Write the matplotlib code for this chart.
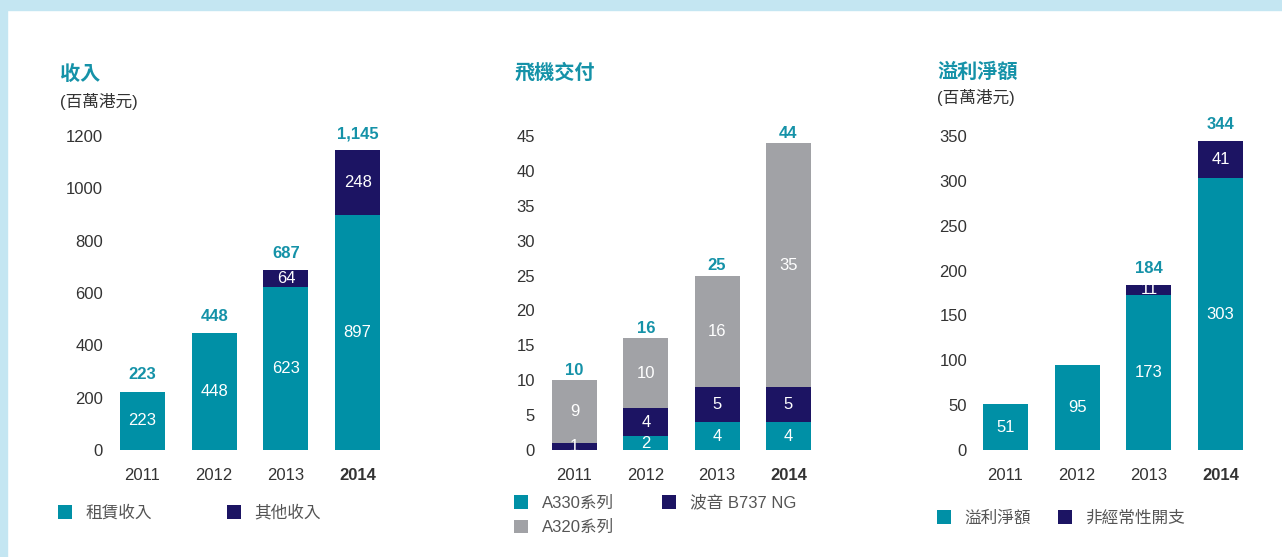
import matplotlib.pyplot as plt
from matplotlib.patches import Rectangle

plt.rcParams['font.family'] = ['Liberation Sans', 'Noto Sans CJK TC', 'DejaVu Sans']

# 資料
years = ['2011', '2012', '2013', '2014']

rev_lease = [223, 448, 623, 897]
rev_other = [0, 0, 64, 248]
rev_total = ['223', '448', '687', '1,145']

del_a330 = [0, 2, 4, 4]
del_b737 = [1, 4, 5, 5]
del_a320 = [9, 10, 16, 35]
del_total = ['10', '16', '25', '44']

np_profit = [51, 95, 173, 303]
np_nonrec = [0, 0, 11, 41]
np_total = ['', '', '184', '344']

TEAL = '#0090a6'
NAVY = '#1c1463'
GRAY = '#a1a2a6'
TITLE = '#1592a8'
TXT = '#333333'

W, H = 1282, 557
fig = plt.figure(figsize=(W / 100, H / 100), dpi=100)
fig.patch.set_facecolor('white')
# 淺藍邊框
fig.patches.append(Rectangle((0, 1 - 10 / H), 1, 10 / H, transform=fig.transFigure,
                             color='#c4e6f2', zorder=0))
fig.patches.append(Rectangle((0, 0), 7 / W, 1, transform=fig.transFigure,
                             color='#c4e6f2', zorder=0))


def make_axes(left_px, first_px, step_px, ymax, ticks):
    x0 = -(first_px - left_px) / step_px
    x1 = 3.62
    width = (x1 - x0) * step_px
    ax = fig.add_axes([left_px / W, (H - 450) / H, width / W, 314 / H])
    ax.set_xlim(x0, x1)
    ax.set_ylim(0, ymax)
    ax.set_yticks(ticks)
    ax.set_xticks(range(4))
    ax.set_xticklabels(years)
    ax.get_xticklabels()[3].set_fontweight('bold')
    for s in ax.spines.values():
        s.set_visible(False)
    ax.tick_params(length=0, labelsize=12, colors=TXT)
    ax.tick_params(axis='x', pad=13)
    ax.tick_params(axis='y', pad=5)
    ax.patch.set_alpha(0)
    return ax


def stack(ax, series, colors, labels, totals, off=12):
    bottoms = [0] * 4
    handles = []
    for vals, c, lab in zip(series, colors, labels):
        b = ax.bar(range(4), vals, 0.63, bottom=bottoms, color=c, label=lab)
        handles.append(b)
        for i, v in enumerate(vals):
            if v > 0:
                ax.text(i, bottoms[i] + v / 2, str(v), ha='center', va='center',
                        color='white', fontsize=12)
        bottoms = [bt + v for bt, v in zip(bottoms, vals)]
    for i, t in enumerate(totals):
        if t:
            ax.annotate(t, (i, bottoms[i]), xytext=(0, off), textcoords='offset points',
                        ha='center', va='center', color=TITLE, fontsize=12,
                        fontweight='bold', annotation_clip=False)
    return handles


def titles(x, y, title, sub=None, sub_dy=27):
    fig.text(x / W, 1 - y / H, title, color=TITLE, fontsize=14.5, fontweight='bold',
             va='center', ha='left')
    if sub:
        fig.text(x / W, 1 - (y + sub_dy) / H, sub, color=TXT, fontsize=12,
                 va='center', ha='left')


# 收入
ax1 = make_axes(110, 142.5, 71.7, 1200, range(0, 1201, 200))
h1 = stack(ax1, [rev_lease, rev_other], [TEAL, NAVY], ['租賃收入', '其他收入'], rev_total)
titles(60, 75, '收入', '(百萬港元)')
ax1.legend(h1, ['租賃收入', '其他收入'], ncol=2, frameon=False, fontsize=12,
           loc='center left', bbox_to_anchor=(58 / W, 1 - 513 / H),
           bbox_transform=fig.transFigure, borderpad=0, borderaxespad=0,
           handlelength=0.85, handleheight=0.85, handletextpad=0.8,
           columnspacing=4.5, labelcolor='#555555')

# 飛機交付
ax2 = make_axes(542, 574.5, 71.3, 45, range(0, 46, 5))
h2 = stack(ax2, [del_a330, del_b737, del_a320], [TEAL, NAVY, GRAY],
           ['A330系列', '波音 B737 NG', 'A320系列'], del_total, off=7)
titles(515, 73, '飛機交付')
ax2.legend([h2[0], h2[2], h2[1]], ['A330系列', 'A320系列', '波音 B737 NG'], ncol=2,
           frameon=False, fontsize=12, loc='upper left',
           bbox_to_anchor=(514 / W, 1 - 495 / H), bbox_transform=fig.transFigure,
           borderpad=0, borderaxespad=0, handlelength=0.85, handleheight=0.85,
           handletextpad=0.8, columnspacing=2.9, labelspacing=0.55,
           labelcolor='#555555')

# 溢利淨額
ax3 = make_axes(974, 1005.5, 71.7, 350, range(0, 351, 50))
h3 = stack(ax3, [np_profit, np_nonrec], [TEAL, NAVY], ['溢利淨額', '非經常性開支'], np_total)
titles(937, 72, '溢利淨額', '(百萬港元)', sub_dy=26)
ax3.legend(h3, ['溢利淨額', '非經常性開支'], ncol=2, frameon=False, fontsize=12,
           loc='center left', bbox_to_anchor=(937 / W, 1 - 518 / H),
           bbox_transform=fig.transFigure, borderpad=0, borderaxespad=0,
           handlelength=0.85, handleheight=0.85, handletextpad=0.8,
           columnspacing=1.6, labelcolor='#555555')

fig.savefig('out.png', dpi=100)
